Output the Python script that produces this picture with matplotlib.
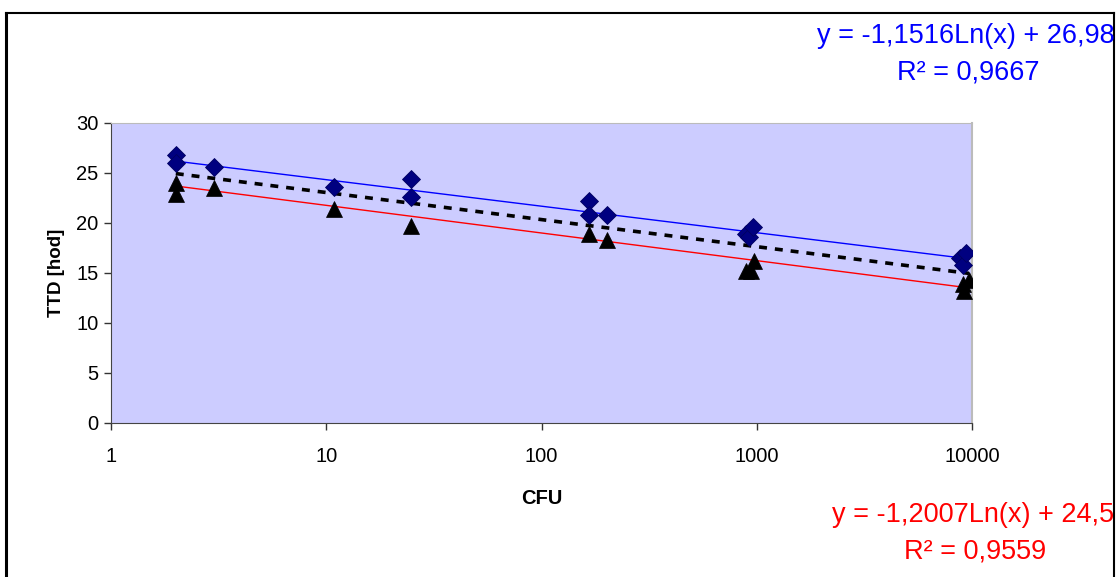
import numpy as np
import matplotlib
matplotlib.use("Agg")
import matplotlib.pyplot as plt
from matplotlib.ticker import FixedLocator, NullLocator

plt.rcParams['font.family'] = ['Liberation Sans', 'DejaVu Sans']

# Measured points: CFU (colony forming units) vs TTD [hod]
cfu_a = [2, 2, 3, 10.9, 24.8, 24.8, 166, 166, 201, 891, 920, 961, 8800, 9080, 9380]
ttd_a = [26.8, 26.0, 25.6, 23.6, 24.4, 22.6, 22.2, 20.8, 20.8, 18.9, 18.6, 19.6, 16.5, 15.8, 17.0]

cfu_b = [2, 2, 3, 10.9, 24.8, 166, 201, 891, 940, 971, 9080, 9200, 9680]
ttd_b = [24.0, 22.9, 23.5, 21.4, 19.7, 18.9, 18.3, 15.2, 15.2, 16.2, 13.9, 13.2, 14.3]

# Logarithmic trend coefficients  y = k*ln(x) + q
k_a, q_a, r2_a = -1.1516, 26.984, 0.9667
k_b, q_b, r2_b = -1.2007, 24.53, 0.9559

x_ticks = [1, 10, 100, 1000, 10000]
x_tick_labels = ["1", "10", "100", "1000", "10000"]
y_ticks = [0, 5, 10, 15, 20, 25, 30]

W, H = 1120, 577
fig = plt.figure(figsize=(W / 100, H / 100), dpi=100)
fig.patch.set_facecolor("white")

# Outer chart frame
frame = fig.add_axes([6 / W, 0, (1114 - 6) / W, (H - 13) / H])
frame.set_xlim(0, 1)
frame.set_ylim(0, 1)
frame.set_xticks([])
frame.set_yticks([])
frame.patch.set_visible(False)
for side in ("left", "top", "right"):
    frame.spines[side].set_color("black")
    frame.spines[side].set_linewidth(1.5)
frame.spines["left"].set_linewidth(2.2)
frame.spines["bottom"].set_visible(False)

# Plot area
ax = fig.add_axes([111 / W, (H - 423) / H, (972 - 111) / W, (423 - 123) / H])
ax.set_facecolor("#CCCCFF")
ax.set_xscale("log")
ax.set_xlim(1, 10000)
ax.set_ylim(0, 30)

xs = np.geomspace(min(cfu_a), max(cfu_b), 400)
ax.plot(xs, k_a * np.log(xs) + q_a, color="#0000FF", lw=1.0, zorder=2)
ax.plot(xs, k_b * np.log(xs) + q_b, color="#FF0000", lw=1.0, zorder=2)
k_m, q_m = (k_a + k_b) / 2, (q_a + q_b) / 2
ax.plot(xs, k_m * np.log(xs) + q_m, color="black", lw=2.6,
        linestyle=(0, (2.2, 2.2)), zorder=2)

ax.plot(cfu_a, ttd_a, linestyle="none", marker="D", markersize=9.5,
        markerfacecolor="#000080", markeredgecolor="#000060", markeredgewidth=0.6, zorder=3)
ax.plot(cfu_b, ttd_b, linestyle="none", marker="^", markersize=11,
        markerfacecolor="black", markeredgecolor="black", markeredgewidth=0.5, zorder=3)

ax.xaxis.set_major_locator(FixedLocator(x_ticks))
ax.xaxis.set_minor_locator(NullLocator())
ax.set_xticklabels(x_tick_labels)
ax.set_yticks(y_ticks)
ax.tick_params(axis="both", direction="out", length=5, width=1, color="#333333",
               labelsize=14.5, pad=4)
ax.tick_params(axis="x", pad=12)

ax.spines["left"].set_color("#444444")
ax.spines["bottom"].set_color("#444444")
ax.spines["top"].set_color("#BBBBBB")
ax.spines["right"].set_color("#BBBBBB")
ax.spines["right"].set_linewidth(1.5)

ax.set_xlabel("CFU", fontsize=14.5, fontweight="bold", labelpad=17)
ax.set_ylabel("TTD [hod]", fontsize=13.5, fontweight="bold", labelpad=8)


def fmt(v, nd=None):
    s = f"{v:.{nd}f}" if nd is not None else repr(v)
    return s.replace(".", ",")


eq_a = f"y = {fmt(k_a, 4)}Ln(x) + {fmt(q_a)}"
eq_b = f"y = {fmt(k_b, 4)}Ln(x) + {fmt(q_b)}"
lab_a = f"R\u00b2 = {fmt(r2_a, 4)}"
lab_b = f"R\u00b2 = {fmt(r2_b, 4)}"


def fig_text(x, y, s, color, ha):
    # equations run past the chart frame and are clipped at its edge
    t = fig.text(x / W, 1 - y / H, s, color=color, fontsize=19.5, ha=ha, va="center")
    t.set_clip_box(frame.bbox)
    t.set_clip_on(True)
    return t


fig_text(817, 36, eq_a, "#0000FF", "left")
fig_text(968, 72, lab_a, "#0000FF", "center")
fig_text(832, 515, eq_b, "#FF0000", "left")
fig_text(975, 551, lab_b, "#FF0000", "center")

fig.savefig("out.png", dpi=100, facecolor="white")
